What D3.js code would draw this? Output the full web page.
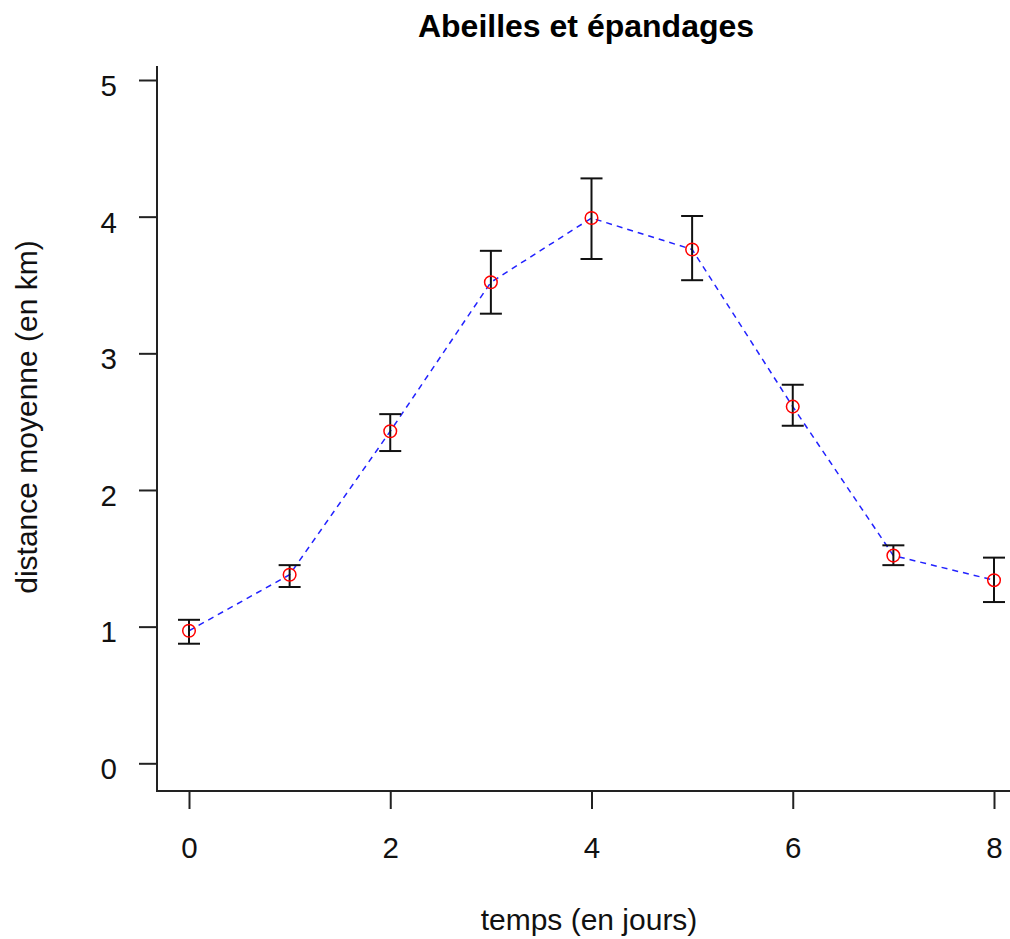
<!DOCTYPE html>
<html>
<head>
<meta charset="utf-8">
<script src="https://d3js.org/d3.v7.min.js"></script>
<style>
  body { margin: 0; background: #fff; }
  text { font-family: "Liberation Sans", Arial, sans-serif; }
</style>
</head>
<body>
<svg id="chart" width="1010" height="939"></svg>
<script>
  // data
  let jours = [0, 1, 2, 3, 4, 5, 6, 7, 8];
  let moyennes = [0.97, 1.38, 2.43, 3.52, 3.99, 3.76, 2.61, 1.52, 1.34];
  let basErr = [0.875, 1.29, 2.285, 3.29, 3.69, 3.535, 2.47, 1.45, 1.18];
  let hautErr = [1.05, 1.45, 2.555, 3.75, 4.28, 4.005, 2.77, 1.595, 1.505];
  let xTicks = [0, 2, 4, 6, 8];
  let yTicks = [0, 1, 2, 3, 4, 5];

  let svg = d3.select("#chart");

  let x = d3.scaleLinear().domain([0, 8]).range([189, 994]);
  let y = d3.scaleLinear().domain([0, 5]).range([763.3, 80]);

  // L shaped box
  svg.append("path")
    .attr("d", "M157,66 L157,791 L1010,791")
    .attr("fill", "none")
    .attr("stroke", "#222")
    .attr("stroke-width", 2);

  // axes
  let xAxis = svg.append("g")
    .attr("transform", "translate(0,791)")
    .call(d3.axisBottom(x).tickValues(xTicks).tickSize(18).tickPadding(28).tickFormat(d3.format("d")));
  let yAxis = svg.append("g")
    .attr("transform", "translate(157,0)")
    .call(d3.axisLeft(y).tickValues(yTicks).tickSize(18).tickPadding(22).tickFormat(d3.format("d")));

  [xAxis, yAxis].forEach(function(a) {
    a.select(".domain").remove();
    a.selectAll("line").attr("stroke", "#222").attr("stroke-width", 2);
    a.selectAll("text")
      .attr("fill", "#111")
      .style("font-size", "29.5px")
      .style("font-family", "'Liberation Sans', Arial, sans-serif");
  });
  yAxis.selectAll("text").attr("dy", "0.52em");

  // titles
  svg.append("text")
    .attr("x", 586)
    .attr("y", 37)
    .attr("text-anchor", "middle")
    .style("font-size", "32px")
    .style("font-weight", "bold")
    .text("Abeilles et épandages");

  svg.append("text")
    .attr("x", 589)
    .attr("y", 930)
    .attr("text-anchor", "middle")
    .attr("fill", "#111")
    .style("font-size", "30px")
    .text("temps (en jours)");

  svg.append("text")
    .attr("transform", "translate(37,417) rotate(-90)")
    .attr("text-anchor", "middle")
    .attr("fill", "#111")
    .style("font-size", "30px")
    .text("distance moyenne (en km)");

  // dashed line through the means
  let line = d3.line()
    .x(function(d, i) { return x(jours[i]); })
    .y(function(d) { return y(d); });

  svg.append("path")
    .datum(moyennes)
    .attr("d", line)
    .attr("fill", "none")
    .attr("stroke", "#2222ff")
    .attr("stroke-width", 1.5)
    .attr("stroke-dasharray", "6,5");

  // error bars
  let bars = svg.append("g")
    .selectAll("g")
    .data(jours)
    .enter()
    .append("g");

  bars.append("line")
    .attr("x1", function(d) { return x(d); })
    .attr("x2", function(d) { return x(d); })
    .attr("y1", function(d, i) { return y(basErr[i]); })
    .attr("y2", function(d, i) { return y(hautErr[i]); })
    .attr("stroke", "#111")
    .attr("stroke-width", 2);

  bars.append("line")
    .attr("x1", function(d) { return x(d) - 11; })
    .attr("x2", function(d) { return x(d) + 11; })
    .attr("y1", function(d, i) { return y(basErr[i]); })
    .attr("y2", function(d, i) { return y(basErr[i]); })
    .attr("stroke", "#111")
    .attr("stroke-width", 2);

  bars.append("line")
    .attr("x1", function(d) { return x(d) - 11; })
    .attr("x2", function(d) { return x(d) + 11; })
    .attr("y1", function(d, i) { return y(hautErr[i]); })
    .attr("y2", function(d, i) { return y(hautErr[i]); })
    .attr("stroke", "#111")
    .attr("stroke-width", 2);

  // points
  svg.append("g")
    .selectAll("circle")
    .data(moyennes)
    .enter()
    .append("circle")
    .attr("cx", function(d, i) { return x(jours[i]); })
    .attr("cy", function(d) { return y(d); })
    .attr("r", 6.3)
    .attr("fill", "none")
    .attr("stroke", "#ff0000")
    .attr("stroke-width", 1.5);
</script>
</body>
</html>
